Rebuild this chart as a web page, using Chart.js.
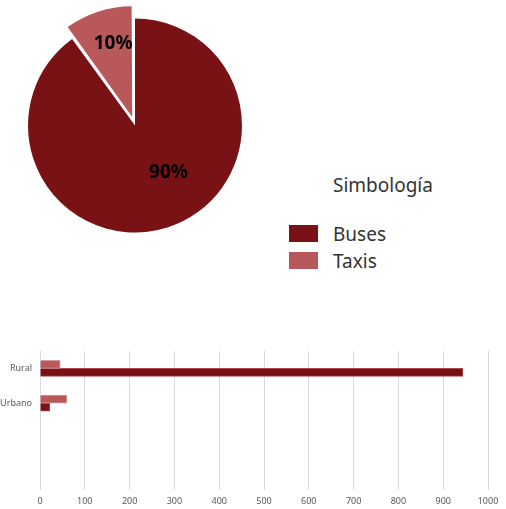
<!DOCTYPE html>
<html>
<head>
<meta charset="utf-8">
<script src="https://cdn.jsdelivr.net/npm/chart.js@4.4.1/dist/chart.umd.min.js"></script>
<style>
    body {
        margin: 0;
        width: 506px;
        height: 509px;
        background: #fff;
        position: relative;
        overflow: hidden;
        font-family: "Noto Sans", sans-serif;
    }
    #pieBox { position: absolute; left: 0; top: 0; width: 270px; height: 251px; }
    #barBox { position: absolute; left: 0; top: 330px; width: 506px; height: 179px; }
    .legend-title, .legend-text {
        position: absolute;
        font-size: 19px;
        line-height: 19px;
        color: #333;
        white-space: nowrap;
    }
    .legend-box { position: absolute; width: 29px; height: 17px; }
</style>
</head>
<body>
<div id="pieBox"><canvas id="pieChart"></canvas></div>
<div id="legend"></div>
<div id="barBox"><canvas id="barChart"></canvas></div>

<script>
// pie: share of vehicles
const pieLabels = ['Buses', 'Taxis'];
const piePercent = [90, 10];

// bars: vehicles by zone
const zoneLabels = ['Rural', 'Urbano', '', ''];
const busesByZone = [944, 22];
const taxisByZone = [45, 60];
const xMax = 1000;
const xStep = 100;

const busColor = '#781214';
const taxiColor = '#B9585B';
const sliceColors = [busColor, taxiColor];

// label placement inside the slices (fraction of radius, angle shift in degrees)
const labelRadius = [0.54, 0.79];
const labelShift = [-17.5, 3];

const pieValueLabels = {
    id: 'pieValueLabels',
    afterDatasetsDraw(chart) {
        const ctx = chart.ctx;
        const meta = chart.getDatasetMeta(0);
        ctx.save();
        ctx.font = 'bold 19px "Noto Sans", sans-serif';
        ctx.fillStyle = '#000';
        ctx.textAlign = 'center';
        ctx.textBaseline = 'middle';
        meta.data.forEach((arc, i) => {
            const p = arc.getProps(['x', 'y', 'startAngle', 'endAngle', 'outerRadius'], true);
            const a = (p.startAngle + p.endAngle) / 2 + labelShift[i] * Math.PI / 180;
            const r = p.outerRadius * labelRadius[i];
            ctx.fillText(piePercent[i] + '%', p.x + Math.cos(a) * r, p.y + Math.sin(a) * r);
        });
        ctx.restore();
    }
};

new Chart(document.getElementById('pieChart'), {
    type: 'pie',
    data: {
        labels: pieLabels,
        datasets: [{
            data: piePercent,
            backgroundColor: sliceColors,
            borderWidth: 0,
            offset: [0, 36]
        }]
    },
    options: {
        responsive: true,
        maintainAspectRatio: false,
        animation: false,
        radius: 107,
        plugins: {
            legend: { display: false },
            tooltip: { enabled: false }
        }
    },
    plugins: [pieValueLabels]
});

// legend on the right ("Simbología")
const legend = document.getElementById('legend');
const title = document.createElement('div');
title.className = 'legend-title';
title.style.left = '333px';
title.style.top = '176px';
title.textContent = 'Simbología';
legend.appendChild(title);

pieLabels.forEach((name, i) => {
    const box = document.createElement('div');
    box.className = 'legend-box';
    box.style.left = '289px';
    box.style.top = (225 + i * 27) + 'px';
    box.style.background = sliceColors[i];
    legend.appendChild(box);

    const txt = document.createElement('div');
    txt.className = 'legend-text';
    txt.style.left = '333px';
    txt.style.top = (225 + i * 27) + 'px';
    txt.textContent = name;
    legend.appendChild(txt);
});

const tickFont = { family: '"Noto Sans", sans-serif', size: 9 };

new Chart(document.getElementById('barChart'), {
    type: 'bar',
    data: {
        labels: zoneLabels,
        datasets: [
            {
                label: 'Taxis',
                data: taxisByZone,
                backgroundColor: taxiColor,
                borderColor: '#D39B9C',
                borderWidth: 1,
                barThickness: 8
            },
            {
                label: 'Buses',
                data: busesByZone,
                backgroundColor: busColor,
                borderColor: '#A9484A',
                borderWidth: 1,
                barThickness: 8
            }
        ]
    },
    options: {
        indexAxis: 'y',
        responsive: true,
        maintainAspectRatio: false,
        animation: false,
        layout: { padding: { top: 21, right: 18 } },
        plugins: {
            legend: { display: false },
            tooltip: { enabled: false }
        },
        scales: {
            x: {
                min: 0,
                max: xMax,
                ticks: {
                    stepSize: xStep,
                    color: '#595959',
                    font: tickFont,
                    padding: 6,
                    callback: (value) => String(value)
                },
                grid: { color: '#D9D9D9', drawTicks: false },
                border: { display: false },
                afterFit(scale) { scale.height = 19; }
            },
            y: {
                grid: { display: false, drawTicks: false },
                border: { display: false },
                ticks: { color: '#595959', font: tickFont, padding: 8 },
                afterFit(scale) { scale.width = 40; }
            }
        }
    }
});
</script>
</body>
</html>
